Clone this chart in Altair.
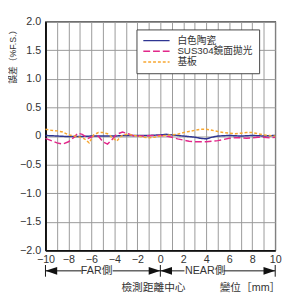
import altair as alt
import pandas as pd

FONT = "Liberation Sans, Noto Sans CJK TC, sans-serif"

series_names = ["白色陶瓷", "SUS304鏡面拋光", "基板"]
series_colors = ["#2e3592", "#e2288a", "#f7a731"]
series_dash = [[1, 0], [7, 3], [3, 2]]

white_x = [-10, -9, -8, -7, -6, -5, -4, -3, -2, -1, 0, 0.5, 1, 2, 3, 3.5, 4, 4.5, 5, 6, 7, 8, 9, 10]
white_y = [0.01, 0.0, -0.01, -0.01, 0.0, 0.0, 0.0, 0.01, 0.01, 0.01, 0.02, 0.03, 0.02, 0.0, -0.02, -0.04, -0.05, -0.02, 0.0, 0.01, 0.0, 0.01, 0.0, 0.01]

sus_x = [-10, -9.5, -9, -8.5, -8, -7.5, -7.2, -6.8, -6.3, -5.8, -5.4, -5, -4.6, -4.2, -3.8, -3.3, -2.8, -2.3, -1.5, -0.5, 0, 0.5, 1, 1.5, 2, 2.5, 3, 3.5, 4, 4.5, 5, 5.5, 6, 6.5, 7, 7.5, 8, 8.5, 9, 9.5, 10]
sus_y = [-0.04, -0.08, -0.12, -0.14, -0.1, -0.02, 0.05, 0.03, -0.04, 0.0, 0.0, -0.1, -0.14, -0.06, 0.03, 0.07, 0.04, 0.0, 0.0, 0.01, 0.01, 0.0, -0.02, -0.05, -0.07, -0.09, -0.1, -0.1, -0.1, -0.09, -0.08, -0.06, -0.04, -0.03, -0.03, -0.04, -0.03, -0.02, -0.02, -0.03, -0.02]

base_x = [-10, -9.5, -9, -8.5, -8, -7.5, -7, -6.6, -6.2, -5.8, -5.4, -5, -4.6, -4.2, -3.8, -3.4, -3, -2.5, -2, -1.5, -1, -0.5, 0, 0.5, 1, 1.5, 2, 2.5, 3, 3.5, 4, 4.5, 5, 5.5, 6, 6.5, 7, 7.5, 8, 8.5, 9, 9.5, 10]
base_y = [0.12, 0.1, 0.09, 0.07, 0.02, 0.0, -0.02, -0.05, -0.12, 0.02, 0.06, 0.06, 0.04, -0.02, -0.09, 0.0, 0.03, 0.02, 0.0, -0.02, -0.03, -0.02, 0.0, 0.01, 0.02, 0.03, 0.06, 0.08, 0.1, 0.12, 0.12, 0.1, 0.08, 0.06, 0.05, 0.04, 0.05, 0.06, 0.06, 0.04, 0.02, 0.01, 0.0]

x_ticks = list(range(-10, 11, 1))
y_ticks = [-2.0, -1.5, -1.0, -0.5, 0.0, 0.5, 1.0, 1.5, 2.0]

# annotation data (in data units along x)
arrow_segments_x = [-10, -4.15, 0, 5.5]
arrow_segments_x2 = [-6.85, 0, 2.1, 10]
bar_x = [-10, 0, 10]
arrow_tips_right = [0, 10]
arrow_tips_left = [-10, 0]
side_labels = ["FAR側", "NEAR側"]
side_label_x = [-5.55, 3.9]
bottom_labels = ["檢測距離中心", "變位［mm］"]
bottom_label_x = [-0.6, 7.8]
y_title = "誤差（%F.S.）"

rows = []
for name, xs, ys in zip(series_names, [white_x, sus_x, base_x], [white_y, sus_y, base_y]):
    for i, (a, b) in enumerate(zip(xs, ys)):
        rows.append({"series": name, "x": a, "y": b, "order": i})
df = pd.DataFrame(rows)

xscale = alt.Scale(domain=[-10, 10], nice=False)
yscale = alt.Scale(domain=[-2, 2], nice=False)

xaxis = alt.Axis(values=x_ticks, title=None, grid=True,
                 labelExpr="datum.value % 2 == 0 ? replace(format(datum.value, 'd'), '-', '−') : ''",
                 labelPadding=3, labelOverlap=False, labelFlush=False)
yaxis = alt.Axis(values=y_ticks, title=None, grid=True,
                 labelExpr="datum.value == 0 ? '0' : replace(format(datum.value, '.1f'), '-', '−')",
                 labelPadding=5, labelOverlap=False)

legend_kw = dict(title=None, orient="none", legendX=93.5, legendY=8,
                 strokeColor="#444", fillColor="white", padding=6,
                 symbolType="stroke", symbolSize=729, symbolStrokeWidth=1.5,
                 labelFontSize=10, labelFont=FONT, labelColor="#333",
                 rowPadding=0, clipHeight=11, labelOffset=7)

lines = alt.Chart(df).mark_line(strokeWidth=1.5).encode(
    x=alt.X("x:Q", scale=xscale, axis=xaxis),
    y=alt.Y("y:Q", scale=yscale, axis=yaxis),
    color=alt.Color("series:N", scale=alt.Scale(domain=series_names, range=series_colors),
                    legend=alt.Legend(**legend_kw)),
    strokeDash=alt.StrokeDash("series:N", scale=alt.Scale(domain=series_names, range=series_dash),
                              legend=alt.Legend(**legend_kw)),
    order="order:Q",
)

seg_df = pd.DataFrame({"x": arrow_segments_x, "x2": arrow_segments_x2})
segs = alt.Chart(seg_df).mark_rule(color="#111", strokeWidth=1).encode(
    x=alt.X("x:Q", scale=xscale, axis=xaxis), x2="x2:Q", y=alt.value(256))

bars = alt.Chart(pd.DataFrame({"x": bar_x})).mark_rule(color="#111", strokeWidth=1).encode(
    x=alt.X("x:Q", scale=xscale, axis=xaxis), y=alt.value(250), y2=alt.value(262))

tips_r = alt.Chart(pd.DataFrame({"x": arrow_tips_right})).mark_point(
    shape="M0,0 L-2,-0.67 L-2,0.67 Z", filled=True, color="#111", size=144, opacity=1).encode(
    x=alt.X("x:Q", scale=xscale, axis=xaxis), y=alt.value(256))

tips_l = alt.Chart(pd.DataFrame({"x": arrow_tips_left})).mark_point(
    shape="M0,0 L2,-0.67 L2,0.67 Z", filled=True, color="#111", size=144, opacity=1).encode(
    x=alt.X("x:Q", scale=xscale, axis=xaxis), y=alt.value(256))

side = alt.Chart(pd.DataFrame({"x": side_label_x, "t": side_labels})).mark_text(
    fontSize=11, font=FONT, color="#333", baseline="middle", align="center").encode(
    x=alt.X("x:Q", scale=xscale, axis=xaxis), y=alt.value(256), text="t:N")

bottom = alt.Chart(pd.DataFrame({"x": bottom_label_x, "t": bottom_labels})).mark_text(
    fontSize=11, font=FONT, color="#333", baseline="top", align="center").encode(
    x=alt.X("x:Q", scale=xscale, axis=xaxis), y=alt.value(268), text="t:N")

ytitle = alt.Chart(pd.DataFrame({"t": [y_title]})).mark_text(
    fontSize=9, font=FONT, color="#333", angle=270, baseline="middle", align="center").encode(
    x=alt.value(-33), y=alt.value(34), text="t:N")

chart = alt.layer(lines, segs, bars, tips_r, tips_l, side, bottom, ytitle).properties(
    width=236, height=235,
    autosize=alt.AutoSizeParams(type="none"),
    padding={"left": 38.5, "top": 10, "right": 8, "bottom": 50},
    background="white",
).configure_view(stroke="#222", strokeWidth=1.2).configure_axis(
    grid=True, gridColor="#999", gridWidth=1, gridOpacity=1,
    ticks=False, domainColor="#111", domainWidth=2,
    labelFontSize=11, labelColor="#333", labelFont=FONT,
)

chart.save("out.html", embed_options={"renderer": "svg", "actions": False})
